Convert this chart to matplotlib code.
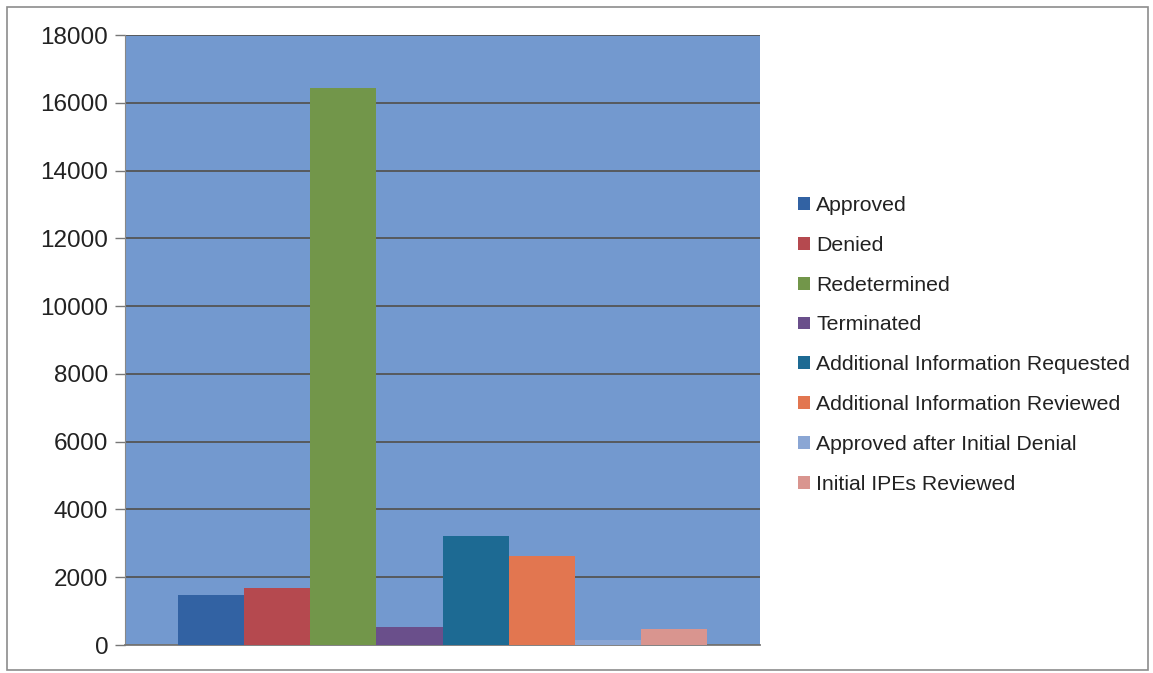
import matplotlib.pyplot as plt
from matplotlib.patches import Rectangle

# values
categories = ["Approved", "Denied", "Redetermined", "Terminated",
              "Additional Information Requested", "Additional Information Reviewed",
              "Approved after Initial Denial", "Initial IPEs Reviewed"]
counts = [1490, 1680, 16430, 530, 3220, 2620, 150, 470]
colors = ["#3262a3", "#b5494f", "#72964a", "#6a4f8b",
          "#1d6a93", "#e27650", "#8aa6d4", "#d9958f"]
yticks = [0, 2000, 4000, 6000, 8000, 10000, 12000, 14000, 16000, 18000]

plt.rcParams['font.family'] = ['Liberation Sans', 'DejaVu Sans']

fig = plt.figure(figsize=(11.53, 6.73), dpi=100)
fig.patch.set_facecolor('white')
# thin frame around the whole chart, like the scanned print
fig.patches.append(Rectangle((0.006, 0.005), 0.99, 0.985, transform=fig.transFigure,
                             fill=False, edgecolor='#8c8c8c', linewidth=1.2))

ax = fig.add_axes([125 / 1153, 1 - 645 / 673, 635 / 1153, 610 / 673])
ax.set_facecolor('#7399cf')

n = len(categories)
bar_w = 0.104
start = 0.5 - bar_w * n / 2
for i, (lab, val, c) in enumerate(zip(categories, counts, colors)):
    ax.bar(start + bar_w * (i + 0.5), val, width=bar_w, color=c, label=lab, zorder=3)

ax.set_xlim(0, 1)
ax.set_ylim(0, 18000)
ax.set_yticks(yticks)
ax.set_yticklabels([str(t) for t in yticks], fontsize=17.5, color='#222222')
ax.set_xticks([])
ax.yaxis.grid(True, color='#555555', linewidth=1.3, zorder=1)
ax.tick_params(axis='y', length=7, width=1, color='#777777', pad=5)
for s in ['top', 'right']:
    ax.spines[s].set_visible(False)
ax.spines['left'].set_color('#888888')
ax.spines['bottom'].set_color('#777777')
ax.spines['bottom'].set_linewidth(1.3)

leg = ax.legend(loc='upper left', bbox_to_anchor=(798 / 1153, 1 - 196 / 673),
                bbox_transform=fig.transFigure, frameon=False, fontsize=15.3,
                handlelength=0.55, handleheight=0.55, handletextpad=0.3,
                labelspacing=0.98, borderaxespad=0, borderpad=0)
for t in leg.get_texts():
    t.set_color('#222222')

fig.savefig('out.png', dpi=100)
